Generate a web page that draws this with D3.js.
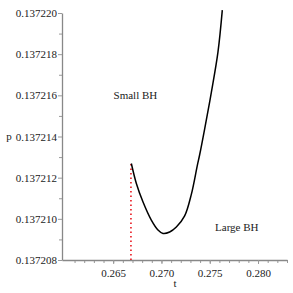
<!DOCTYPE html>
<html>
<head>
<meta charset="utf-8">
<script src="https://cdn.jsdelivr.net/npm/d3@7"></script>
<style>
  body { margin: 0; background: #fff; }
</style>
</head>
<body>
<div id="chart"></div>
<script>
const width = 293
const height = 293
const serif = "'Liberation Serif', 'Times New Roman', 'DejaVu Serif', serif"

// datos
const tValues = [0.26688, 0.26740, 0.26808, 0.26895, 0.26964, 0.27016, 0.27085, 0.27154,
                 0.27240, 0.27310, 0.27372, 0.27395, 0.27447, 0.27517, 0.27585, 0.27630]
const pValues = [0.13721269, 0.13721172, 0.13721083, 0.13720994, 0.13720946, 0.13720929,
                 0.13720936, 0.13720960, 0.13721014, 0.13721120, 0.13721261, 0.13721310,
                 0.13721436, 0.13721616, 0.13721810, 0.13722014]
const xTicks = [0.265, 0.270, 0.275, 0.280]
const yTicks = [0.137208, 0.137210, 0.137212, 0.137214, 0.137216, 0.137218, 0.137220]
const spinodalT = 0.26684
const labels = [
  {text: "Small BH", t: 0.2673, p: 0.137216},
  {text: "Large BH", t: 0.2778, p: 0.1372096}
]

const data = tValues.map((t, i) => ({t: t, p: pValues[i]}))

const svg = d3.select("div#chart").append("svg").attr("width", width).attr("height", height)

// escalas
const x = d3.scaleLinear().domain([0.2597, 0.2830]).range([62, 287])
const y = d3.scaleLinear().domain([0.137208, 0.137220]).range([260, 13])

// ejes (marcas menores y mayores)
svg.append("g").attr("class", "minor").attr("transform", "translate(0,260)")
  .call(d3.axisBottom(x).tickValues(d3.range(0.261, 0.2831, 0.001)).tickSize(3).tickFormat(""))
const xMain = svg.append("g").attr("transform", "translate(0,260)")
  .call(d3.axisBottom(x).tickValues(xTicks).tickSize(4).tickSizeOuter(0).tickFormat(d3.format(".3f")))

svg.append("g").attr("class", "minor").attr("transform", "translate(62,0)")
  .call(d3.axisLeft(y).tickValues(d3.range(0.137209, 0.1372205, 0.000002)).tickSize(3).tickFormat(""))
const yMain = svg.append("g").attr("transform", "translate(62,0)")
  .call(d3.axisLeft(y).tickValues(yTicks).tickSize(4).tickSizeOuter(0).tickFormat(d3.format(".6f")))

svg.selectAll(".minor .domain").remove()
svg.selectAll(".domain").attr("stroke", "#888").attr("stroke-width", 1.3)
svg.selectAll(".tick line").attr("stroke", "#999")
svg.selectAll(".tick text").attr("fill", "#222")
  .style("font-family", serif).style("font-size", "11px")
xMain.selectAll(".tick text").attr("dy", "0.95em")
yMain.selectAll(".tick text").attr("x", -5)

// línea punteada roja
svg.append("line")
  .attr("x1", x(spinodalT)).attr("x2", x(spinodalT))
  .attr("y1", y(0.137208)).attr("y2", y(pValues[0]))
  .attr("stroke", "#e8141c").attr("stroke-width", 1.6)
  .attr("stroke-dasharray", "1.5,3")

// curva
const line = d3.line().x(d => x(d.t)).y(d => y(d.p)).curve(d3.curveCatmullRom.alpha(0.5))
svg.append("path").datum(data)
  .attr("d", line)
  .attr("fill", "none").attr("stroke", "#000").attr("stroke-width", 1.5)

// textos
svg.selectAll("text.lab").data(labels).enter().append("text")
  .attr("class", "lab")
  .attr("x", d => x(d.t)).attr("y", d => y(d.p))
  .attr("text-anchor", "middle").attr("dy", "0.35em")
  .attr("fill", "#222")
  .style("font-family", serif).style("font-size", "11px")
  .text(d => d.text)

svg.append("text").attr("x", 9).attr("y", 136).attr("dy", "0.35em")
  .attr("text-anchor", "middle").attr("fill", "#222")
  .style("font-family", serif).style("font-size", "11px").text("p")
svg.append("text").attr("x", 175).attr("y", 283).attr("dy", "0.35em")
  .attr("text-anchor", "middle").attr("fill", "#222")
  .style("font-family", serif).style("font-size", "11px").text("t")
</script>
</body>
</html>
